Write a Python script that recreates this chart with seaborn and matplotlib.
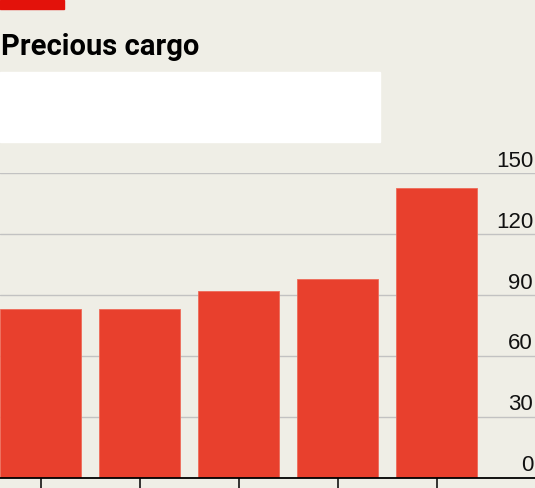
import matplotlib
matplotlib.use("Agg")
import matplotlib.pyplot as plt
import matplotlib.patches as mpatches
from matplotlib.transforms import ScaledTranslation, blended_transform_factory
import seaborn as sns
import pandas as pd

# ---- data ----
categories = ["A", "B", "C", "D", "E"]
values = [83, 83, 92, 98, 143]
yticks = [0, 30, 60, 90, 120, 150]
title = "Precious cargo"

BG = "#efeee6"
BAR = "#e8402d"
RED = "#e3120b"
GRID = "#c2c2c2"

sns.set_theme(style="white")
plt.rcParams["font.family"] = ["Liberation Sans", "DejaVu Sans"]

fig = plt.figure(figsize=(5.35, 4.88), dpi=100, facecolor=BG)
W, H = 535, 488

ax = fig.add_axes([0, 10 / H, 1, (478 - 173.3) / H])
ax.set_facecolor(BG)

df = pd.DataFrame({"cat": categories, "val": values})
sns.barplot(data=df, x="cat", y="val", color=BAR, width=0.818, saturation=1,
            ax=ax, zorder=3, edgecolor="#ee6a58", linewidth=0.6)

ax.set_xlim(-0.41, 4.995)
ax.set_ylim(0, 150)
ax.set_yticks(yticks)
ax.yaxis.grid(True, color=GRID, linewidth=1.0, zorder=0)
ax.set_axisbelow(True)
ax.tick_params(axis="y", left=False, right=False, labelleft=False, labelright=False)
ax.tick_params(axis="x", bottom=True, direction="out", length=9, width=1.1,
               color="black", labelbottom=False)
ax.set_xlabel("")
ax.set_ylabel("")
for s in ["left", "right", "top"]:
    ax.spines[s].set_visible(False)
ax.spines["bottom"].set_color("black")
ax.spines["bottom"].set_linewidth(1.3)
ax.spines["bottom"].set_zorder(5)

trans = blended_transform_factory(ax.transAxes, ax.transData) + \
    ScaledTranslation(0, 4.8 / 72, fig.dpi_scale_trans)
for t in yticks:
    ax.text(533 / W, t, str(t), transform=trans, ha="right", va="baseline",
            fontsize=16, color="#111111", family=["Liberation Sans", "DejaVu Sans"])

# header elements
fig.patches.append(mpatches.Rectangle((0, (H - 9) / H), 64 / W, 9 / H,
                                      transform=fig.transFigure, color=RED, zorder=2))
fig.patches.append(mpatches.Rectangle((0, (H - 142) / H), 380 / W, 70 / H,
                                      transform=fig.transFigure, color="white", zorder=2))
fig.text(1 / W, (H - 55) / H, title, ha="left", va="baseline", fontsize=21,
         fontweight="bold", family=["Roboto", "DejaVu Sans"],
         color="black")

fig.savefig("out.png", dpi=100, facecolor=BG)
